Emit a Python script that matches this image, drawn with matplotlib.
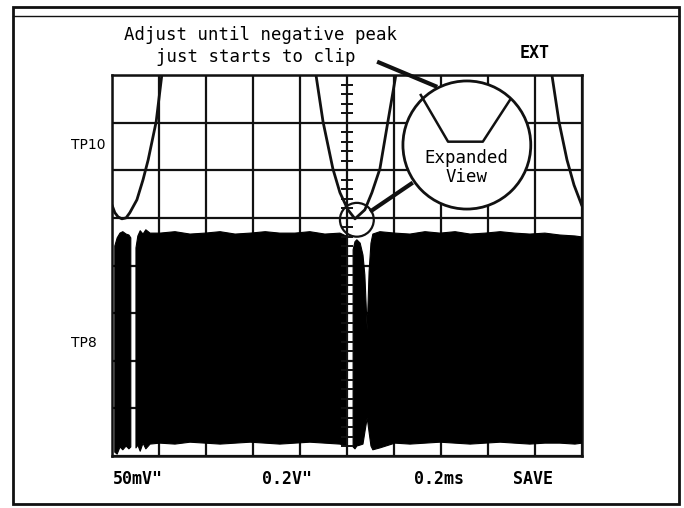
import numpy as np
import matplotlib
matplotlib.use("Agg")
from matplotlib import pyplot as plt
from matplotlib.patches import Ellipse, Rectangle
from matplotlib.lines import Line2D

# Screen units: x in divisions (0-10), y in divisions (0-8, bottom = 0)

# TP10 trace, three visible pieces (left valley, centre valley, right edge)
tp10_left_x = [0.00, 0.06, 0.13, 0.21, 0.30, 0.38, 0.53, 0.66, 0.77, 0.94, 1.06]
tp10_left_y = [5.27, 5.11, 5.02, 4.98, 5.00, 5.11, 5.38, 5.80, 6.22, 7.02, 8.00]
tp10_mid_x = [4.34, 4.49, 4.70, 4.85, 5.02, 5.17, 5.38, 5.53, 5.70, 5.87, 6.04]
tp10_mid_y = [8.00, 7.02, 6.03, 5.53, 5.17, 4.98, 5.17, 5.53, 6.03, 7.02, 8.00]
tp10_right_x = [9.36, 9.51, 9.68, 9.83, 10.00]
tp10_right_y = [8.00, 7.02, 6.22, 5.69, 5.25]

# TP8 burst envelope (upper / lower edge of the filled band), nan = dropout
tp8_x = [0.06, 0.11, 0.17, 0.23, 0.30, 0.36, 0.40,
         0.43,
         0.51, 0.55, 0.60, 0.66, 0.72, 0.81, 1.02, 1.34, 1.66, 1.98, 2.30, 2.62,
         2.94, 3.26, 3.57, 3.89, 4.21, 4.53, 4.85, 4.98,
         5.06,
         5.13, 5.17, 5.21, 5.28, 5.34, 5.38, 5.43, 5.47, 5.51, 5.55,
         5.70, 6.02, 6.34, 6.66, 6.98, 7.30, 7.62, 7.94, 8.26, 8.57, 8.89,
         9.21, 9.53, 9.85, 10.00]
tp8_top = [4.41, 4.58, 4.68, 4.71, 4.66, 4.64, 4.58,
           np.nan,
           4.37, 4.62, 4.73, 4.66, 4.75, 4.68, 4.68, 4.71, 4.66, 4.68, 4.71, 4.66,
           4.68, 4.71, 4.68, 4.68, 4.71, 4.66, 4.68, 4.62,
           np.nan,
           4.33, 4.50, 4.54, 4.47, 4.22, 3.80, 2.65, 3.87, 4.47, 4.66,
           4.71, 4.68, 4.66, 4.71, 4.68, 4.71, 4.66, 4.68, 4.71, 4.68, 4.66,
           4.68, 4.64, 4.62, 4.60]
tp8_bot = [0.08, 0.04, 0.19, 0.13, 0.21, 0.15, 0.19,
           np.nan,
           0.17, 0.23, 0.10, 0.27, 0.15, 0.25, 0.27, 0.25, 0.29, 0.27, 0.25, 0.27,
           0.29, 0.27, 0.25, 0.27, 0.29, 0.27, 0.25, 0.21,
           np.nan,
           0.19, 0.15, 0.21, 0.23, 0.25, 0.50, 0.80, 0.50, 0.21, 0.13,
           0.17, 0.27, 0.25, 0.27, 0.29, 0.27, 0.25, 0.27, 0.29, 0.27, 0.25,
           0.27, 0.27, 0.25, 0.27]

# readouts
ch_labels = ["TP10", "TP8"]
readouts = ['50mV"', '0.2V"', "0.2ms", "SAVE"]

W, H = 684, 508
ink = "#111111"

fig = plt.figure(figsize=(W / 100, H / 100), dpi=100)
fig.patch.set_facecolor("white")

def fx(px):
    return px / W

def fy(py):
    return 1 - py / H

ax = fig.add_axes([fx(112), fy(456), 470 / W, 381 / H])
ax.set_xlim(0, 10)
ax.set_ylim(0, 8)
ax.set_xticks(np.arange(11))
ax.set_yticks(np.arange(9))
ax.tick_params(length=0, labelbottom=False, labelleft=False)
ax.grid(True, color=ink, lw=1.6, zorder=1)
ax.set_axisbelow(True)
for s in ax.spines.values():
    s.set_linewidth(1.8)
    s.set_color(ink)

# centre axis minor ticks
yt = np.arange(0, 8.01, 0.2)
ax.hlines(yt, 5 - 0.13, 5 + 0.13, color=ink, lw=1.4, zorder=4)
ax.vlines(5, 0, 8, color=ink, lw=1.4, zorder=4)

# TP8 band
ax.fill_between(tp8_x, tp8_bot, tp8_top, color="black", lw=0.8,
                edgecolor="black", zorder=3)

# TP10 trace
for xs, ys in [(tp10_left_x, tp10_left_y), (tp10_mid_x, tp10_mid_y),
               (tp10_right_x, tp10_right_y)]:
    ax.plot(xs, ys, color=ink, lw=2, zorder=4, solid_capstyle="round")

# expanded view callout
big = Ellipse((7.55, 6.53), 2.72, 2.69, facecolor="white", edgecolor=ink,
              lw=2, zorder=6, clip_on=False)
ax.add_patch(big)
ax.plot([6.57, 7.15, 7.89, 8.47], [7.58, 6.60, 6.60, 7.48], color=ink,
        lw=1.8, zorder=7, clip_on=False)
ax.text(7.55, 6.26, "Expanded", ha="center", va="center", fontsize=12.5,
        family="DejaVu Sans Mono", zorder=8)
ax.text(7.55, 5.86, "View", ha="center", va="center", fontsize=12.5,
        family="DejaVu Sans Mono", zorder=8)

small = Ellipse((5.21, 4.96), 0.72, 0.71, fill=False, edgecolor=ink,
                lw=1.6, zorder=7)
ax.add_patch(small)
ax.plot([5.49, 6.40], [5.13, 5.74], color=ink, lw=3, zorder=7,
        solid_capstyle="butt")
ax.plot([5.64, 6.92], [8.28, 7.75], color=ink, lw=3, zorder=7,
        clip_on=False, solid_capstyle="butt")

# page frame
fig.add_artist(Rectangle((fx(13), fy(504)), 666 / W, 497 / H, fill=False,
                         edgecolor=ink, lw=2, transform=fig.transFigure))
fig.add_artist(Line2D([fx(13), fx(679)], [fy(16), fy(16)], color=ink, lw=1,
                      transform=fig.transFigure))

# texts
note = dict(ha="center", va="center", fontsize=12.5, family="DejaVu Sans Mono")
fig.text(fx(261), fy(35), "Adjust until negative peak", **note)
fig.text(fx(256), fy(57), "just starts to clip", **note)

bold = dict(va="center", fontsize=12, family="DejaVu Sans Mono",
            weight="bold")
fig.text(fx(520), fy(53), "EXT", ha="left", **bold)
for label, px in zip(readouts, [113, 262, 414, 513]):
    fig.text(fx(px), fy(479), label, ha="left", **bold)

for label, py in zip(ch_labels, [145, 343]):
    fig.text(fx(71), fy(py), label, ha="left", va="center", fontsize=10,
             family="DejaVu Sans")

fig.savefig("out.png", dpi=100, facecolor="white")
